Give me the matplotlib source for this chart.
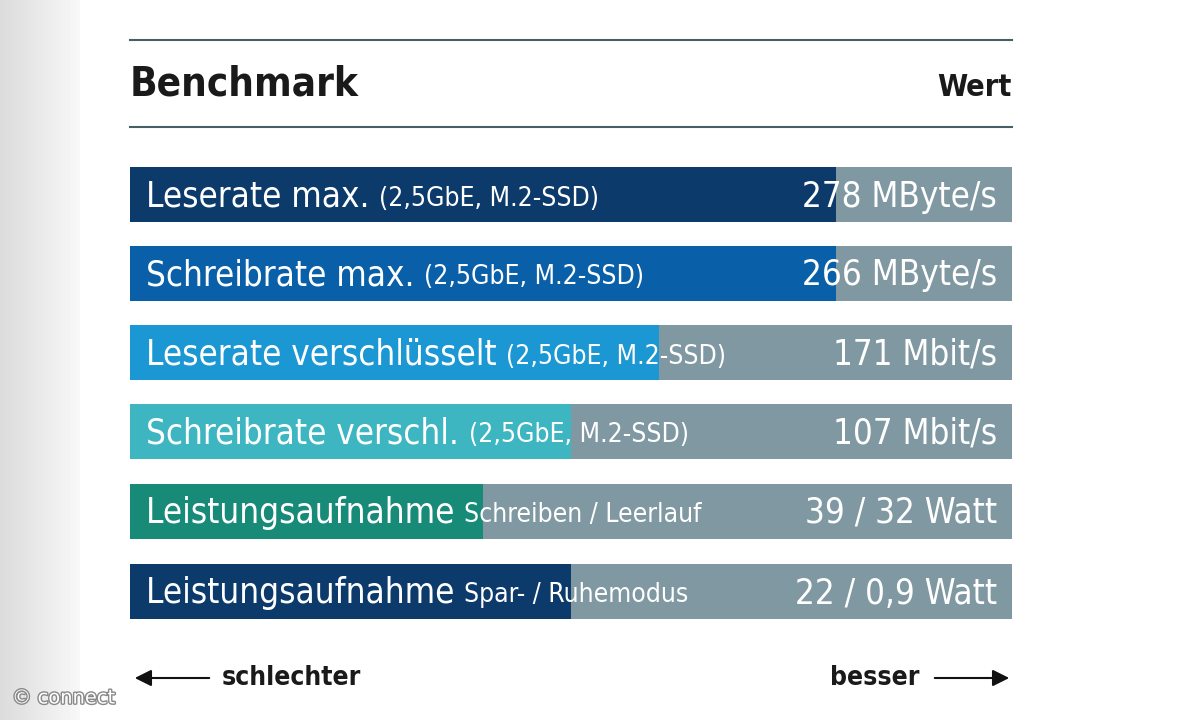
import matplotlib
matplotlib.use("Agg")
import matplotlib.pyplot as plt
import matplotlib.patheffects as pe
import numpy as np

labels = ["Leserate max.", "Schreibrate max.", "Leserate verschlüsselt",
          "Schreibrate verschl.", "Leistungsaufnahme", "Leistungsaufnahme"]
sublabels = ["(2,5GbE, M.2-SSD)", "(2,5GbE, M.2-SSD)", "(2,5GbE, M.2-SSD)",
             "(2,5GbE, M.2-SSD)", "Schreiben / Leerlauf", "Spar- / Ruhemodus"]
values = ["278 MByte/s", "266 MByte/s", "171 Mbit/s", "107 Mbit/s",
          "39 / 32 Watt", "22 / 0,9 Watt"]
scores = [0.80, 0.80, 0.60, 0.50, 0.40, 0.50]
colors = ["#0b3a6b", "#0960a8", "#1b97d4", "#3db6c2", "#178a78", "#0b3a6b"]

font = dict(family="DejaVu Sans", stretch="condensed")
fig = plt.figure(figsize=(12, 7.2), dpi=100)
ax = fig.add_axes([0, 0, 1, 1])
ax.set_xlim(0, 1200)
ax.set_ylim(720, 0)
ax.axis("off")

# grey strip on the left
grad = np.linspace(0.86, 0.97, 80).reshape(1, -1)
ax.imshow(grad, extent=(0, 80, 720, 0), cmap="gray", vmin=0, vmax=1, aspect="auto")

x0, width = 130, 882
ax.plot([x0, x0 + width], [40, 40], color="#4a5e66", lw=1.5)
ax.plot([x0, x0 + width], [127, 127], color="#4a5e66", lw=1.5)
ax.text(x0, 84, "Benchmark", fontsize=29, color="#1a1a1a", va="center", weight="bold", **font)
ax.text(x0 + width, 88, "Wert", fontsize=22, weight="bold",
        color="#1a1a1a", va="center", ha="right", **font)

ys = [194.5, 273, 352.5, 431.5, 511, 591.5]
ax.barh(ys, [width] * 6, left=x0, height=55, color="#7f98a2")
ax.barh(ys, [s * width for s in scores], left=x0, height=55, color=colors)
fig.canvas.draw()
for y, lab, sub, val in zip(ys, labels, sublabels, values):
    t = ax.text(146, y + 2, lab + " ", fontsize=25, color="white", va="center", **font)
    bb = t.get_window_extent(renderer=fig.canvas.get_renderer()).transformed(ax.transData.inverted())
    ax.text(bb.x1, y + 4, sub, fontsize=19, color="white", va="center", **font)
    ax.text(997, y + 2, val, fontsize=25, color="white", va="center", ha="right", **font)

ax.annotate("", xy=(132, 678), xytext=(212, 678),
            arrowprops=dict(arrowstyle="-|>", color="#111", lw=1.5, mutation_scale=25))
ax.annotate("", xy=(1012, 678), xytext=(932, 678),
            arrowprops=dict(arrowstyle="-|>", color="#111", lw=1.5, mutation_scale=25))
ax.text(222, 678, "schlechter", fontsize=19, weight="bold", color="#1a1a1a", va="center", **font)
ax.text(920, 678, "besser", fontsize=19, weight="bold", color="#1a1a1a",
        va="center", ha="right", **font)
ax.text(12, 698, "© connect", fontsize=14, color="white", va="center",
        path_effects=[pe.withStroke(linewidth=2, foreground="#888")])

fig.savefig("out.png", dpi=100)
